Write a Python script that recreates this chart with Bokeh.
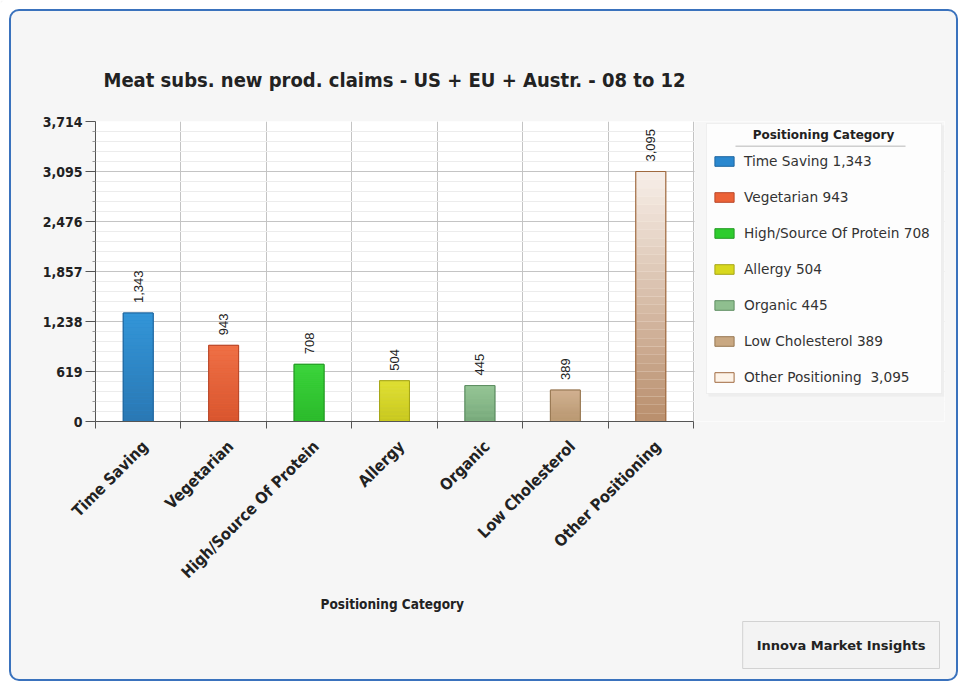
import math
import numpy as np
from bokeh.plotting import figure
from bokeh.models import (FixedTicker, NumeralTickFormatter, Legend, LegendItem, Label,
                          BoxAnnotation, Range1d, ColumnDataSource, Title)
from bokeh.core.properties import value
from bokeh.embed import file_html
from bokeh.resources import INLINE

# ---------------- data ----------------
categories = ["Time Saving", "Vegetarian", "High/Source Of Protein", "Allergy",
              "Organic", "Low Cholesterol", "Other Positioning"]
counts = [1343, 943, 708, 504, 445, 389, 3095]
legend_labels = ["Time Saving 1,343", "Vegetarian 943", "High/Source Of Protein 708",
                 "Allergy 504", "Organic 445", "Low Cholesterol 389", "Other Positioning  3,095"]
y_ticks = [0, 619, 1238, 1857, 2476, 3095, 3714]
title_text = "Meat subs. new prod. claims - US + EU + Austr. - 08 to 12"
x_title = "Positioning Category"
legend_title = "Positioning Category"
credit = "Innova Market Insights"

# ---------------- styles ----------------
swatch = ["#2a88cf", "#ec6237", "#2ecc2e", "#d8d81e", "#8fbf8f", "#c9a882", "#fdf3e8"]
top_col = ["#3396d8", "#ef7046", "#3cd43c", "#e0e038", "#96c696", "#d2b394", "#f7efe9"]
bot_col = ["#2a77b3", "#d8552e", "#2bb92b", "#c6c620", "#76a87a", "#b6946d", "#b98e6c"]
edge_col = ["#1f67a0", "#b9482a", "#239a23", "#a6a618", "#5e8e62", "#987853", "#a06a40"]

COND_BOLD = "DejaVu Sans Condensed, Liberation Sans Narrow, DejaVu Sans"
W, H = 959, 682
FL, FT = 95, 121            # frame left / top (canvas px)
AX_R, FB_Y = 693, 421       # right end of the category axis, frame bottom (canvas px)
FRAME_R = 944               # frame extends under the legend area
FR, FB = W - FRAME_R, H - FB_Y

def sx(X):  # canvas x -> frame-relative screen x
    return X - FL

def sy(Y):  # canvas y (from top) -> frame-relative screen y (upwards)
    return FB_Y - Y

def hex2rgb(h):
    h = h.lstrip("#")
    return np.array([int(h[i:i + 2], 16) for i in (0, 2, 4)], dtype=float)

def rgb2hex(c):
    return "#%02x%02x%02x" % tuple(int(round(v)) for v in c)

n = len(categories)
centers = [i + 0.5 for i in range(n)]
label_pos = [round(c + 0.082, 3) for c in centers]   # labels sit slightly right of centre, as in the source
bar_w = 0.35
x_end = n * (FRAME_R - FL) / (AX_R - FL)

p = figure(width=W, height=H, output_backend="svg", toolbar_location=None,
           x_range=Range1d(0, x_end), y_range=Range1d(y_ticks[0], y_ticks[-1]),
           min_border_left=FL, min_border_right=FR, min_border_top=FT, min_border_bottom=FB,
           background_fill_color="white", border_fill_color="#f6f6f6",
           outline_line_color=None)
p.stylesheets = [
    ":host { position: relative; overflow: hidden; }",
    ":host::after { content: ''; position: absolute; left: 9px; top: 9px; width: 949px; height: 672px;"
    " box-sizing: border-box; border: 2px solid #3a72bd; border-radius: 10px;"
    " box-shadow: 0 0 0 14px #ffffff; pointer-events: none; z-index: 50; }",
]

p.title.text = title_text
p.title.text_font = COND_BOLD
p.title.text_font_size = "20px"
p.title.text_font_style = "bold"
p.title.text_color = "#222222"
p.title.align = "left"
p.title.offset = 8
p.title.standoff = 60

# ---------------- axes ----------------
yminor = []
for a, b in zip(y_ticks[:-1], y_ticks[1:]):
    yminor += list(np.linspace(a, b, 6)[1:-1])
p.yaxis.ticker = FixedTicker(ticks=y_ticks, minor_ticks=yminor)
p.yaxis.formatter = NumeralTickFormatter(format="0,0")
p.yaxis.major_label_text_font = COND_BOLD
p.yaxis.major_label_text_font_style = "bold"
p.yaxis.major_label_text_font_size = "14px"
p.yaxis.major_label_text_color = "#222222"
p.yaxis.major_tick_out = 10
p.yaxis.major_tick_in = 0
p.yaxis.minor_tick_out = 3
p.yaxis.minor_tick_in = 0
p.yaxis.major_label_standoff = 3
p.yaxis.axis_line_color = "#555555"
p.yaxis.major_tick_line_color = "#555555"
p.yaxis.minor_tick_line_color = "#999999"

p.xaxis.bounds = (0, n)
p.xaxis.ticker = FixedTicker(ticks=label_pos, minor_ticks=list(range(n + 1)))
p.xaxis.major_label_overrides = {c: lab for c, lab in zip(label_pos, categories)}
p.xaxis.major_label_orientation = math.pi / 4
p.xaxis.major_label_text_font = COND_BOLD
p.xaxis.major_label_text_font_style = "bold"
p.xaxis.major_label_text_font_size = "16px"
p.xaxis.major_label_text_color = "#222222"
p.xaxis.major_label_standoff = 15
p.xaxis.major_tick_line_color = None
p.xaxis.minor_tick_out = 7
p.xaxis.minor_tick_in = 0
p.xaxis.minor_tick_line_color = "#555555"
p.xaxis.axis_line_color = "#555555"

p.xgrid.ticker = FixedTicker(ticks=list(range(n + 1)))
p.xgrid.grid_line_color = "#c4c4c4"
p.ygrid.grid_line_color = "#c4c4c4"
p.ygrid.minor_grid_line_color = "#ececec"

# x axis title, centred under the category axis
x_title_t = Title(text=x_title, align="left", offset=225, standoff=5,
                  text_font=COND_BOLD, text_font_style="bold", text_font_size="13.5px",
                  text_color="#222222")
p.add_layout(x_title_t, "below")

# credit box (below, right aligned)
credit_t = Title(text=credit, align="right", offset=5, standoff=10,
                 text_font="DejaVu Sans", text_font_style="bold", text_font_size="13px",
                 text_color="#222222", background_fill_color="#f3f3f3",
                 border_line_color="#d2d2d2", padding=(14, 16))
p.add_layout(credit_t, "below")

# ---------------- bars ----------------
src = ColumnDataSource(dict(x=centers, top=counts, fill=swatch, edge=edge_col))
main = p.vbar(x="x", top="top", width=bar_w, source=src, fill_color="fill", line_color="edge")

nseg = 30
gl, gr, gb, gt, gc = [], [], [], [], []
for c, v, tc, bc in zip(centers, counts, top_col, bot_col):
    t_rgb, b_rgb = hex2rgb(tc), hex2rgb(bc)
    for k in range(nseg):
        f = (k + 0.5) / nseg
        gl.append(c - bar_w / 2); gr.append(c + bar_w / 2)
        gb.append(v * k / nseg); gt.append(v * (k + 1) / nseg)
        gc.append(rgb2hex(b_rgb + (t_rgb - b_rgb) * f))
p.quad(left=gl, right=gr, bottom=gb, top=gt, fill_color=gc, line_color=None)
p.vbar(x=centers, top=counts, width=bar_w, fill_alpha=0, line_color=edge_col)

p.text(x=centers, y=counts, text=[f"{v:,}" for v in counts], angle=math.pi / 2,
       text_align="left", text_baseline="middle", y_offset=-10,
       text_font=value("Liberation Sans"), text_font_size="13px", text_color="#222222")

# ---------------- legend area (inside the frame, right of the category axis) ----------------
SCR = dict(left_units="screen", right_units="screen", top_units="screen", bottom_units="screen")
cover = BoxAnnotation(left=sx(AX_R + 1), left_units="screen",
                      fill_color="#f6f6f6", fill_alpha=1, line_color=None, level="annotation")
p.add_layout(cover)
leg_shadow = BoxAnnotation(left=sx(708), right=sx(944), top=sy(125), bottom=sy(396), **SCR,
                           fill_color="#e4e4e4", line_color=None, level="annotation")
leg_box = BoxAnnotation(left=sx(706), right=sx(941), top=sy(123), bottom=sy(393), **SCR,
                        fill_color="#fdfdfd", fill_alpha=1, line_color="#d6d6d6", line_width=1,
                        level="annotation")
leg_line = BoxAnnotation(left=sx(735), right=sx(905), top=sy(145), bottom=sy(146.5), **SCR,
                         fill_color="#8a8a8a", line_color=None, level="annotation")
p.add_layout(leg_shadow)
p.add_layout(leg_box)
p.add_layout(leg_line)
p.add_layout(Label(x=sx(823), y=sy(134), x_units="screen", y_units="screen", text=legend_title,
                   text_align="center", text_baseline="middle", text_font="DejaVu Sans",
                   text_font_style="bold", text_font_size="12px", text_color="#222222"))

items = [LegendItem(label=lab, renderers=[main], index=i) for i, lab in enumerate(legend_labels)]
legend = Legend(items=items, location=(sx(712), sy(385)), orientation="vertical",
                glyph_width=24, glyph_height=12, label_height=16, spacing=20, padding=0, margin=0,
                label_standoff=8, background_fill_alpha=0, border_line_color=None,
                label_text_font="DejaVu Sans", label_text_font_size="13.7px", label_text_color="#333333")
p.add_layout(legend)

open("out.html", "w").write(file_html(p, INLINE))
